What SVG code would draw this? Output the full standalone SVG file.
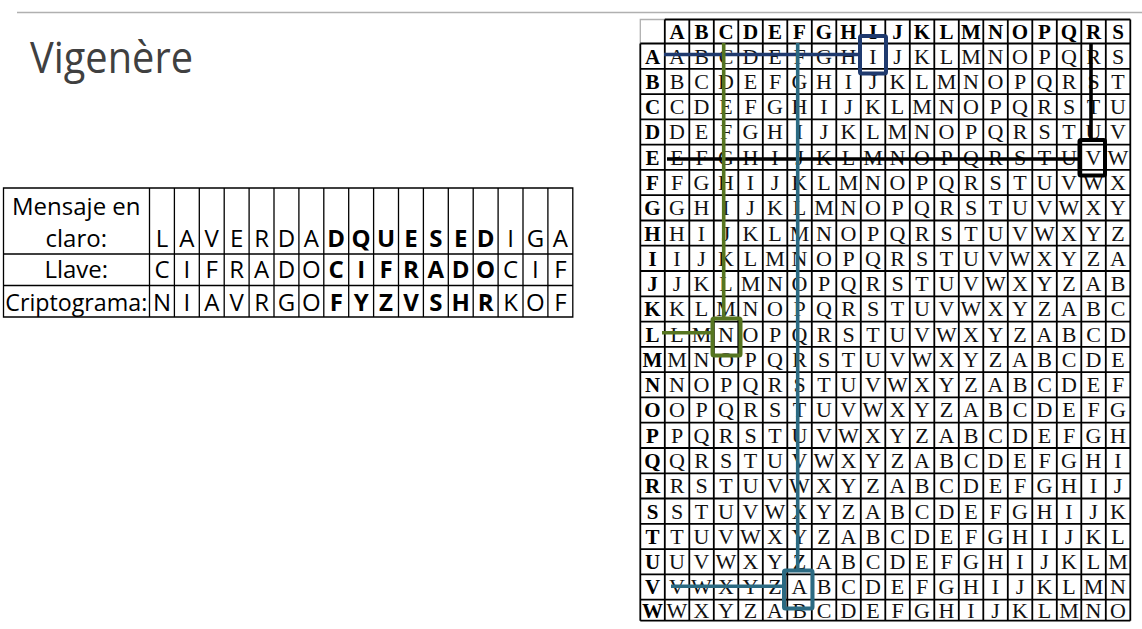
<svg xmlns="http://www.w3.org/2000/svg" width="1142" height="629" viewBox="0 0 1142 629">
<style>
.title{font-family:"Open Sans","Noto Sans","Liberation Sans",sans-serif;font-size:43px;fill:#404040}
.tl{font-family:"Open Sans","Noto Sans","Liberation Sans",sans-serif;font-size:24px;fill:#000;text-anchor:middle}
.tb{font-weight:700}
.tline{fill:none;stroke:#000;stroke-width:1.3}
.gline{fill:none;stroke:#000;stroke-width:1.8}
.gray{fill:none;stroke:#b0b0b0;stroke-width:1.3}
.hd{font-family:"Liberation Serif","Times New Roman",serif;font-weight:700;font-size:21px;text-anchor:middle;fill:#000}
.cl{font-family:"Liberation Serif","Times New Roman",serif;font-size:22px;text-anchor:middle;fill:#111}
.ln{fill:none;stroke-width:3.6;stroke-linecap:butt}
.bx{fill:none;stroke-width:4}
.navy{stroke:#1f3a6e}
.blk{stroke:#000}
.olive{stroke:#567520}
.teal{stroke:#2b6a82}
</style>
<line x1="17" y1="12.5" x2="1142" y2="12.5" class="gray"/>
<g id="title"><text class="title" x="30" y="72.5" textLength="163" lengthAdjust="spacingAndGlyphs">Vigenère</text></g>

<g id="cipher-table">
<path class="tline" d="M3.5 188H572.8V317H3.5Z M3.5 254H572.8 M3.5 285.5H572.8 M149.5 188V317 M174.4 188V317 M199.3 188V317 M224.2 188V317 M249.1 188V317 M274 188V317 M298.9 188V317 M323.8 188V317 M348.7 188V317 M373.6 188V317 M398.5 188V317 M423.4 188V317 M448.3 188V317 M473.2 188V317 M498.1 188V317 M523 188V317 M547.9 188V317"/>
<text class="tl" x="76.3" y="215">Mensaje en</text>
<text class="tl" x="76.3" y="246.7">claro:</text>
<text class="tl" x="76.3" y="278.3">Llave:</text>
<text class="tl" x="76.3" y="310.7" textLength="142" lengthAdjust="spacingAndGlyphs">Criptograma:</text>
<g id="row-plain">
<text class="tl" x="161.95 186.85 211.75 236.65 261.55 286.45 311.35" y="246.7">LAVERDA</text>
<text class="tl tb" x="336.25 361.15 386.05 410.95 435.85 460.75 485.65" y="246.7">DQUESED</text>
<text class="tl" x="510.55 535.45 560.35" y="246.7">IGA</text>
</g>
<g id="row-key">
<text class="tl" x="161.95 186.85 211.75 236.65 261.55 286.45 311.35" y="278.3">CIFRADO</text>
<text class="tl tb" x="336.25 361.15 386.05 410.95 435.85 460.75 485.65" y="278.3">CIFRADO</text>
<text class="tl" x="510.55 535.45 560.35" y="278.3">CIF</text>
</g>
<g id="row-cipher">
<text class="tl" x="161.95 186.85 211.75 236.65 261.55 286.45 311.35" y="310.7">NIAVRGO</text>
<text class="tl tb" x="336.25 361.15 386.05 410.95 435.85 460.75 485.65" y="310.7">FYZVSHR</text>
<text class="tl" x="510.55 535.45 560.35" y="310.7">KOF</text>
</g>
</g>

<g id="vigenere-square">
<path class="gray" d="M640.3 43.5V19.5H664.8"/>
<path class="gline" d="M640.3 43.5V620.7 M664.8 19.5V620.7 M689.3 19.5V620.7 M713.8 19.5V620.7 M738.3 19.5V620.7 M762.8 19.5V620.7 M787.3 19.5V620.7 M811.8 19.5V620.7 M836.3 19.5V620.7 M860.8 19.5V620.7 M885.3 19.5V620.7 M909.8 19.5V620.7 M934.3 19.5V620.7 M958.8 19.5V620.7 M983.3 19.5V620.7 M1007.8 19.5V620.7 M1032.3 19.5V620.7 M1056.8 19.5V620.7 M1081.3 19.5V620.7 M1105.8 19.5V620.7 M1130.3 19.5V620.7"/>
<path class="gline" d="M664.8 19.5H1130.3 M640.3 43.5H1130.3 M640.3 68.8H1130.3 M640.3 94.1H1130.3 M640.3 119.3H1130.3 M640.3 144.6H1130.3 M640.3 169.9H1130.3 M640.3 195.2H1130.3 M640.3 220.5H1130.3 M640.3 245.7H1130.3 M640.3 271H1130.3 M640.3 296.3H1130.3 M640.3 321.6H1130.3 M640.3 346.9H1130.3 M640.3 372.1H1130.3 M640.3 397.4H1130.3 M640.3 422.7H1130.3 M640.3 448H1130.3 M640.3 473.3H1130.3 M640.3 498.5H1130.3 M640.3 523.8H1130.3 M640.3 549.1H1130.3 M640.3 574.4H1130.3 M640.3 599.7H1130.3 M640.3 620.7H1130.3"/>
<g id="col-headers">
<text class="hd" x="677 701.5 726 750.5 775 799.5 824 848.5 873 897.5 922 946.5 971 995.5 1020 1044.5 1069 1093.5 1118" y="38.5">ABCDEFGHIJKLMNOPQRS</text>
</g>
<g id="row-headers">
<text class="hd" x="652.5" y="63.5">A</text>
<text class="hd" x="652.5" y="88.8">B</text>
<text class="hd" x="652.5" y="114.1">C</text>
<text class="hd" x="652.5" y="139.3">D</text>
<text class="hd" x="652.5" y="164.6">E</text>
<text class="hd" x="652.5" y="189.9">F</text>
<text class="hd" x="652.5" y="215.2">G</text>
<text class="hd" x="652.5" y="240.5">H</text>
<text class="hd" x="652.5" y="265.7">I</text>
<text class="hd" x="652.5" y="291">J</text>
<text class="hd" x="652.5" y="316.3">K</text>
<text class="hd" x="652.5" y="341.6">L</text>
<text class="hd" x="652.5" y="366.9">M</text>
<text class="hd" x="652.5" y="392.1">N</text>
<text class="hd" x="652.5" y="417.4">O</text>
<text class="hd" x="652.5" y="442.7">P</text>
<text class="hd" x="652.5" y="468">Q</text>
<text class="hd" x="652.5" y="493.3">R</text>
<text class="hd" x="652.5" y="518.5">S</text>
<text class="hd" x="652.5" y="543.8">T</text>
<text class="hd" x="652.5" y="569.1">U</text>
<text class="hd" x="652.5" y="594.4">V</text>
<text class="hd" x="652.5" y="618">W</text>
</g>
<g id="cells">
<text class="cl" x="677 701.5 726 750.5 775 799.5 824 848.5 873 897.5 922 946.5 971 995.5 1020 1044.5 1069 1093.5 1118" y="63.5">ABCDEFGHIJKLMNOPQRS</text>
<text class="cl" x="677 701.5 726 750.5 775 799.5 824 848.5 873 897.5 922 946.5 971 995.5 1020 1044.5 1069 1093.5 1118" y="88.8">BCDEFGHIJKLMNOPQRST</text>
<text class="cl" x="677 701.5 726 750.5 775 799.5 824 848.5 873 897.5 922 946.5 971 995.5 1020 1044.5 1069 1093.5 1118" y="114.1">CDEFGHIJKLMNOPQRSTU</text>
<text class="cl" x="677 701.5 726 750.5 775 799.5 824 848.5 873 897.5 922 946.5 971 995.5 1020 1044.5 1069 1093.5 1118" y="139.3">DEFGHIJKLMNOPQRSTUV</text>
<text class="cl" x="677 701.5 726 750.5 775 799.5 824 848.5 873 897.5 922 946.5 971 995.5 1020 1044.5 1069 1093.5 1118" y="164.6">EFGHIJKLMNOPQRSTUVW</text>
<text class="cl" x="677 701.5 726 750.5 775 799.5 824 848.5 873 897.5 922 946.5 971 995.5 1020 1044.5 1069 1093.5 1118" y="189.9">FGHIJKLMNOPQRSTUVWX</text>
<text class="cl" x="677 701.5 726 750.5 775 799.5 824 848.5 873 897.5 922 946.5 971 995.5 1020 1044.5 1069 1093.5 1118" y="215.2">GHIJKLMNOPQRSTUVWXY</text>
<text class="cl" x="677 701.5 726 750.5 775 799.5 824 848.5 873 897.5 922 946.5 971 995.5 1020 1044.5 1069 1093.5 1118" y="240.5">HIJKLMNOPQRSTUVWXYZ</text>
<text class="cl" x="677 701.5 726 750.5 775 799.5 824 848.5 873 897.5 922 946.5 971 995.5 1020 1044.5 1069 1093.5 1118" y="265.7">IJKLMNOPQRSTUVWXYZA</text>
<text class="cl" x="677 701.5 726 750.5 775 799.5 824 848.5 873 897.5 922 946.5 971 995.5 1020 1044.5 1069 1093.5 1118" y="291">JKLMNOPQRSTUVWXYZAB</text>
<text class="cl" x="677 701.5 726 750.5 775 799.5 824 848.5 873 897.5 922 946.5 971 995.5 1020 1044.5 1069 1093.5 1118" y="316.3">KLMNOPQRSTUVWXYZABC</text>
<text class="cl" x="677 701.5 726 750.5 775 799.5 824 848.5 873 897.5 922 946.5 971 995.5 1020 1044.5 1069 1093.5 1118" y="341.6">LMNOPQRSTUVWXYZABCD</text>
<text class="cl" x="677 701.5 726 750.5 775 799.5 824 848.5 873 897.5 922 946.5 971 995.5 1020 1044.5 1069 1093.5 1118" y="366.9">MNOPQRSTUVWXYZABCDE</text>
<text class="cl" x="677 701.5 726 750.5 775 799.5 824 848.5 873 897.5 922 946.5 971 995.5 1020 1044.5 1069 1093.5 1118" y="392.1">NOPQRSTUVWXYZABCDEF</text>
<text class="cl" x="677 701.5 726 750.5 775 799.5 824 848.5 873 897.5 922 946.5 971 995.5 1020 1044.5 1069 1093.5 1118" y="417.4">OPQRSTUVWXYZABCDEFG</text>
<text class="cl" x="677 701.5 726 750.5 775 799.5 824 848.5 873 897.5 922 946.5 971 995.5 1020 1044.5 1069 1093.5 1118" y="442.7">PQRSTUVWXYZABCDEFGH</text>
<text class="cl" x="677 701.5 726 750.5 775 799.5 824 848.5 873 897.5 922 946.5 971 995.5 1020 1044.5 1069 1093.5 1118" y="468">QRSTUVWXYZABCDEFGHI</text>
<text class="cl" x="677 701.5 726 750.5 775 799.5 824 848.5 873 897.5 922 946.5 971 995.5 1020 1044.5 1069 1093.5 1118" y="493.3">RSTUVWXYZABCDEFGHIJ</text>
<text class="cl" x="677 701.5 726 750.5 775 799.5 824 848.5 873 897.5 922 946.5 971 995.5 1020 1044.5 1069 1093.5 1118" y="518.5">STUVWXYZABCDEFGHIJK</text>
<text class="cl" x="677 701.5 726 750.5 775 799.5 824 848.5 873 897.5 922 946.5 971 995.5 1020 1044.5 1069 1093.5 1118" y="543.8">TUVWXYZABCDEFGHIJKL</text>
<text class="cl" x="677 701.5 726 750.5 775 799.5 824 848.5 873 897.5 922 946.5 971 995.5 1020 1044.5 1069 1093.5 1118" y="569.1">UVWXYZABCDEFGHIJKLM</text>
<text class="cl" x="677 701.5 726 750.5 775 799.5 824 848.5 873 897.5 922 946.5 971 995.5 1020 1044.5 1069 1093.5 1118" y="594.4">VWXYZABCDEFGHIJKLMN</text>
<text class="cl" x="677 701.5 726 750.5 775 799.5 824 848.5 873 897.5 922 946.5 971 995.5 1020 1044.5 1069 1093.5 1118" y="618">WXYZABCDEFGHIJKLMNO</text>
</g>
</g>

<g id="connectors">
<g id="path-I">
<path class="ln navy" d="M664 54.5H860"/>
<rect class="bx navy" x="860" y="36" width="26" height="37.5" rx="1.5"/>
</g>
<g id="path-V">
<path class="ln blk" d="M1091 43V140"/>
<path class="ln blk" d="M667 159H1079.5"/>
<rect class="bx blk" x="1079.5" y="140" width="25.5" height="35.5" rx="1.5"/>
</g>
<g id="path-N">
<path class="ln olive" d="M723.7 43V318.5"/>
<path class="ln olive" d="M662 332.7H712.5"/>
<rect class="bx olive" x="712.5" y="318.5" width="28" height="37" rx="1.5"/>
</g>
<g id="path-A">
<path class="ln teal" d="M797.7 43V570.5"/>
<path class="ln teal" d="M671 586.3H784"/>
<rect class="bx teal" x="784" y="570.5" width="28.5" height="38" rx="1.5"/>
</g>
</g>
</svg>
